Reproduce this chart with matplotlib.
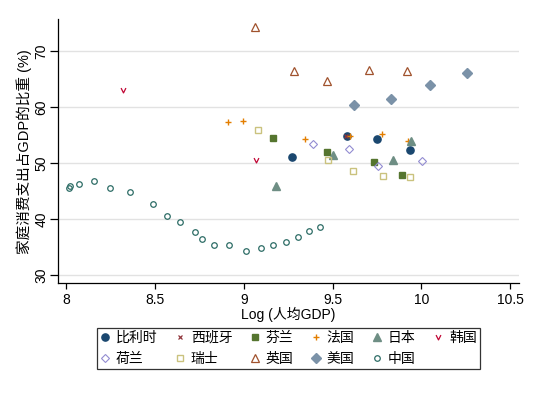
import matplotlib
matplotlib.use("Agg")
import matplotlib.pyplot as plt
from matplotlib.path import Path

plt.rcParams['font.family'] = ['Liberation Sans', 'Noto Sans CJK SC', 'DejaVu Sans']

# 数据：对数人均GDP 与 家庭消费支出占GDP比重(%)
be_x = [9.269, 9.579, 9.751, 9.937]
be_y = [51.2, 54.8, 54.3, 52.4]
es_x = [9.573]
es_y = [54.8]
fi_x = [9.164, 9.468, 9.733, 9.892]
fi_y = [54.5, 52.0, 50.2, 47.9]
fr_x = [8.909, 8.995, 9.342, 9.599, 9.778, 9.922]
fr_y = [57.4, 57.5, 54.4, 54.8, 55.3, 54.0]
jp_x = [9.181, 9.503, 9.84, 9.939]
jp_y = [45.9, 51.5, 50.6, 53.9]
kr_x = [8.321, 9.07]
kr_y = [63.0, 50.5]
nl_x = [9.391, 9.593, 9.757, 10.005]
nl_y = [53.4, 52.6, 49.5, 50.4]
ch_x = [9.081, 9.472, 9.616, 9.785, 9.937]
ch_y = [55.9, 50.5, 48.7, 47.7, 47.5]
uk_x = [9.062, 9.282, 9.468, 9.706, 9.92]
uk_y = [74.4, 66.4, 64.7, 66.7, 66.4]
us_x = [9.618, 9.828, 10.05, 10.258]
us_y = [60.4, 61.4, 64.0, 66.2]
cn_x = [8.015, 8.023, 8.072, 8.154, 8.246, 8.359, 8.49, 8.565, 8.642, 8.723,
        8.764, 8.83, 8.914, 9.01, 9.098, 9.166, 9.237, 9.306, 9.367, 9.427]
cn_y = [45.5, 45.9, 46.3, 46.8, 45.5, 44.9, 42.7, 40.6, 39.6, 37.8,
        36.4, 35.4, 35.4, 34.3, 34.9, 35.4, 35.9, 36.8, 37.9, 38.7]

yticks = [30, 40, 50, 60, 70]
xticks = [8, 8.5, 9, 9.5, 10, 10.5]
xtick_labels = ["8", "8.5", "9", "9.5", "10", "10.5"]

v_marker = Path([(-1, 1), (0, -1), (1, 1)], [Path.MOVETO, Path.LINETO, Path.LINETO])

fig = plt.figure(figsize=(5.38, 3.94), dpi=100)
ax = fig.add_axes([0.1072, 0.281, 0.8568, 0.670])

for y in yticks:
    ax.axhline(y, color='#e2e2e2', lw=1.0, zorder=0)

h = {}
h['be'], = ax.plot(be_x, be_y, 'o', ls='none', color='#1a476f', ms=5.2, label='比利时')
h['es'], = ax.plot(es_x, es_y, 'x', ls='none', color='#90353b', ms=2.5, mew=0.9, label='西班牙')
h['fi'], = ax.plot(fi_x, fi_y, 's', ls='none', color='#55752f', ms=5, label='芬兰')
h['fr'], = ax.plot(fr_x, fr_y, '+', ls='none', color='#e37e00', ms=4.5, mew=1.0, label='法国')
h['jp'], = ax.plot(jp_x, jp_y, '^', ls='none', color='#6e8e84', ms=5.5, label='日本')
h['kr'], = ax.plot(kr_x, kr_y, marker=v_marker, ls='none', color='#c10534', ms=3.5,
                   mew=0.9, mfc='none', label='韩国')
h['nl'], = ax.plot(nl_x, nl_y, 'D', ls='none', color='#938dd2', ms=4.2, mew=0.8,
                   mfc='none', label='荷兰')
h['ch'], = ax.plot(ch_x, ch_y, 's', ls='none', color='#cac27e', ms=5, mew=1.0,
                   mfc='none', label='瑞士')
h['uk'], = ax.plot(uk_x, uk_y, '^', ls='none', color='#a0522d', ms=5.5, mew=0.9,
                   mfc='none', label='英国')
h['us'], = ax.plot(us_x, us_y, 'D', ls='none', color='#7b92a8', ms=5, label='美国')
h['cn'], = ax.plot(cn_x, cn_y, 'o', ls='none', color='#2d6d66', ms=4, mew=0.9,
                   mfc='none', label='中国')

ax.set_xlim(7.952, 10.547)
ax.set_ylim(28.57, 75.7)
ax.set_xticks(xticks)
ax.set_xticklabels(xtick_labels)
ax.set_yticks(yticks)
ax.tick_params(axis='x', length=4, width=0.9, labelsize=10, pad=3)
ax.tick_params(axis='y', length=6, width=0.9, labelsize=10, pad=0.5)
for lbl in ax.get_yticklabels():
    lbl.set_rotation(90)
    lbl.set_va('center')

ax.spines['top'].set_visible(False)
ax.spines['right'].set_visible(False)
ax.spines['left'].set_linewidth(0.9)
ax.spines['bottom'].set_linewidth(0.9)

ax.set_xlabel('Log (人均GDP)', fontsize=10, labelpad=0)
ax.set_ylabel('家庭消费支出占GDP的比重 (%)', fontsize=10.5)
ax.yaxis.set_label_coords(-0.056, 0.5)

# 图例按行排列：matplotlib按列填充，所以重排顺序
order = ['be', 'nl', 'es', 'ch', 'fi', 'uk', 'fr', 'us', 'jp', 'cn', 'kr']
leg = fig.legend([h[k] for k in order], [h[k].get_label() for k in order],
                 loc='center', bbox_to_anchor=(0.536, 0.116), ncol=6,
                 fontsize=10, frameon=True, fancybox=False, edgecolor='black',
                 handlelength=0.7, handletextpad=0.45, columnspacing=1.25,
                 labelspacing=0.5, borderpad=0.2, borderaxespad=0)
leg.get_frame().set_linewidth(0.9)

fig.savefig('out.png', dpi=100)
